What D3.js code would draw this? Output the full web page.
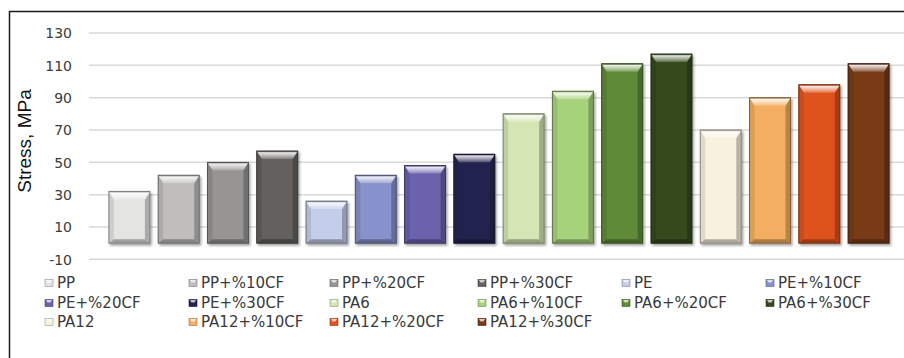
<!DOCTYPE html>
<html>
<head>
<meta charset="utf-8">
<script src="https://cdn.jsdelivr.net/npm/d3@7"></script>
<style>
  html, body { margin: 0; padding: 0; background: #fff; }
  svg { display: block; }
</style>
</head>
<body>
<svg id="chart" width="904" height="358"></svg>
<script>
// Tensile stress of neat and carbon-fibre filled polymers
const categories = [
  "PP", "PP+%10CF", "PP+%20CF", "PP+%30CF",
  "PE", "PE+%10CF", "PE+%20CF", "PE+%30CF",
  "PA6", "PA6+%10CF", "PA6+%20CF", "PA6+%30CF",
  "PA12", "PA12+%10CF", "PA12+%20CF", "PA12+%30CF"
];
const stressValues = [32, 42, 50, 57, 26, 42, 48, 55, 80, 94, 111, 117, 70, 90, 98, 111];
const barColors = [
  "#e4e4e2", "#bfbebc", "#969593", "#63605d",
  "#c4cdea", "#8791cb", "#6a62ad", "#24234f",
  "#d3e6b4", "#a7d27c", "#5f8b37", "#34491d",
  "#f8f1de", "#f4ae62", "#de531f", "#783a18"
];
const yTicks = [-10, 10, 30, 50, 70, 90, 110, 130];
const yLabel = "Stress, MPa";

const svg = d3.select("#chart");

// drop shadow for the bevelled columns
const defs = svg.append("defs");
const shadow = defs.append("filter").attr("id", "shadow")
  .attr("x", "-20%").attr("y", "-10%").attr("width", "140%").attr("height", "130%");
shadow.append("feDropShadow").attr("dx", 1.5).attr("dy", 2).attr("stdDeviation", 1.2)
  .attr("flood-color", "#000").attr("flood-opacity", 0.35);

// outer frame
svg.append("rect").attr("x", 9.5).attr("y", 11.5).attr("width", 1000).attr("height", 1000)
  .attr("fill", "none").attr("stroke", "#1a1a1a").attr("stroke-width", 1.5);

const x = d3.scaleBand().domain(categories).range([89, 909])
  .paddingInner(0.168).paddingOuter(0.404);
const y = d3.scaleLinear().domain([-10, 130]).range([259.3, 33]);

// gridlines
svg.append("g").selectAll("line").data(yTicks).join("line")
  .attr("x1", 89).attr("x2", 904)
  .attr("y1", d => y(d)).attr("y2", d => y(d))
  .attr("stroke", "#d9d9d9").attr("stroke-width", 1.5);

// y axis labels
const yAxis = d3.axisLeft(y).tickValues(yTicks).tickSize(0).tickPadding(0)
  .tickFormat(d => d3.format("d")(d).replace("−", "-"));
const ga = svg.append("g").attr("transform", "translate(72,0)").call(yAxis);
ga.select(".domain").remove();
ga.selectAll("text")
  .attr("font-family", "DejaVu Sans, Verdana, sans-serif")
  .attr("font-size", 14).attr("fill", "#3a3a3a").attr("dy", "0.35em");

svg.append("text")
  .attr("transform", "translate(31,141) rotate(-90)")
  .attr("text-anchor", "middle")
  .attr("font-family", "Liberation Sans, Arial, sans-serif")
  .attr("font-size", 19).attr("fill", "#111")
  .text(yLabel);

// bevelled columns
function mix(c, target, t) {
  return d3.interpolateRgb(c, target)(t);
}
const bars = svg.append("g").selectAll("g").data(categories).join("g")
  .attr("filter", "url(#shadow)");

bars.each(function (cat, i) {
  const g = d3.select(this);
  const c = barColors[i];
  const x0 = x(cat), x1 = x(cat) + x.bandwidth();
  const yt = y(stressValues[i]), yb = y(0);
  const s = 5, t = 8, b = 4;
  const gid = "topgrad" + i;
  const lg = defs.append("linearGradient").attr("id", gid)
    .attr("x1", 0).attr("y1", 0).attr("x2", 0).attr("y2", 1);
  lg.append("stop").attr("offset", "0%").attr("stop-color", mix(c, "#000", 0.35));
  lg.append("stop").attr("offset", "22%").attr("stop-color", mix(c, "#fff", 0.85));
  lg.append("stop").attr("offset", "100%").attr("stop-color", mix(c, "#fff", 0.2));

  g.append("rect").attr("x", x0).attr("y", yt).attr("width", x1 - x0).attr("height", yb - yt)
    .attr("fill", c);
  // left and right edges
  g.append("polygon")
    .attr("points", [[x0, yt], [x0 + s, yt + t], [x0 + s, yb - b], [x0, yb]].join(" "))
    .attr("fill", mix(c, "#000", 0.1));
  g.append("polygon")
    .attr("points", [[x1, yt], [x1 - s, yt + t], [x1 - s, yb - b], [x1, yb]].join(" "))
    .attr("fill", mix(c, "#000", 0.25));
  // bottom edge
  g.append("polygon")
    .attr("points", [[x0, yb], [x0 + s, yb - b], [x1 - s, yb - b], [x1, yb]].join(" "))
    .attr("fill", mix(c, "#000", 0.3));
  // top highlight
  g.append("polygon")
    .attr("points", [[x0, yt], [x1, yt], [x1 - s, yt + t], [x0 + s, yt + t]].join(" "))
    .attr("fill", `url(#${gid})`);
  g.append("rect").attr("x", x0).attr("y", yt).attr("width", x1 - x0).attr("height", yb - yt)
    .attr("fill", "none").attr("stroke", mix(c, "#000", 0.45)).attr("stroke-width", 1);
});

// legend: six columns, three rows
const legendCols = [45, 189, 330, 478, 622, 766];
const legendRows = [283, 303, 322];
const lgd = svg.append("g").selectAll("g").data(categories).join("g")
  .attr("transform", (d, i) => `translate(${legendCols[i % 6]},${legendRows[Math.floor(i / 6)]})`);
lgd.append("rect").attr("x", 0).attr("y", -3.5).attr("width", 8).attr("height", 7)
  .attr("fill", (d, i) => barColors[i])
  .attr("stroke", (d, i) => mix(barColors[i], "#000", 0.35)).attr("stroke-width", 0.6);
lgd.append("polygon")
  .attr("points", "1,-3 7,-3 5.5,-0.5 2.5,-0.5")
  .attr("fill", (d, i) => mix(barColors[i], "#fff", 0.7));
lgd.append("text").attr("x", 12).attr("y", 0).attr("dy", "0.36em")
  .attr("font-family", "DejaVu Sans, Verdana, sans-serif")
  .attr("font-size", 15).attr("fill", "#3a3a3a")
  .text(d => d);
</script>
</body>
</html>
